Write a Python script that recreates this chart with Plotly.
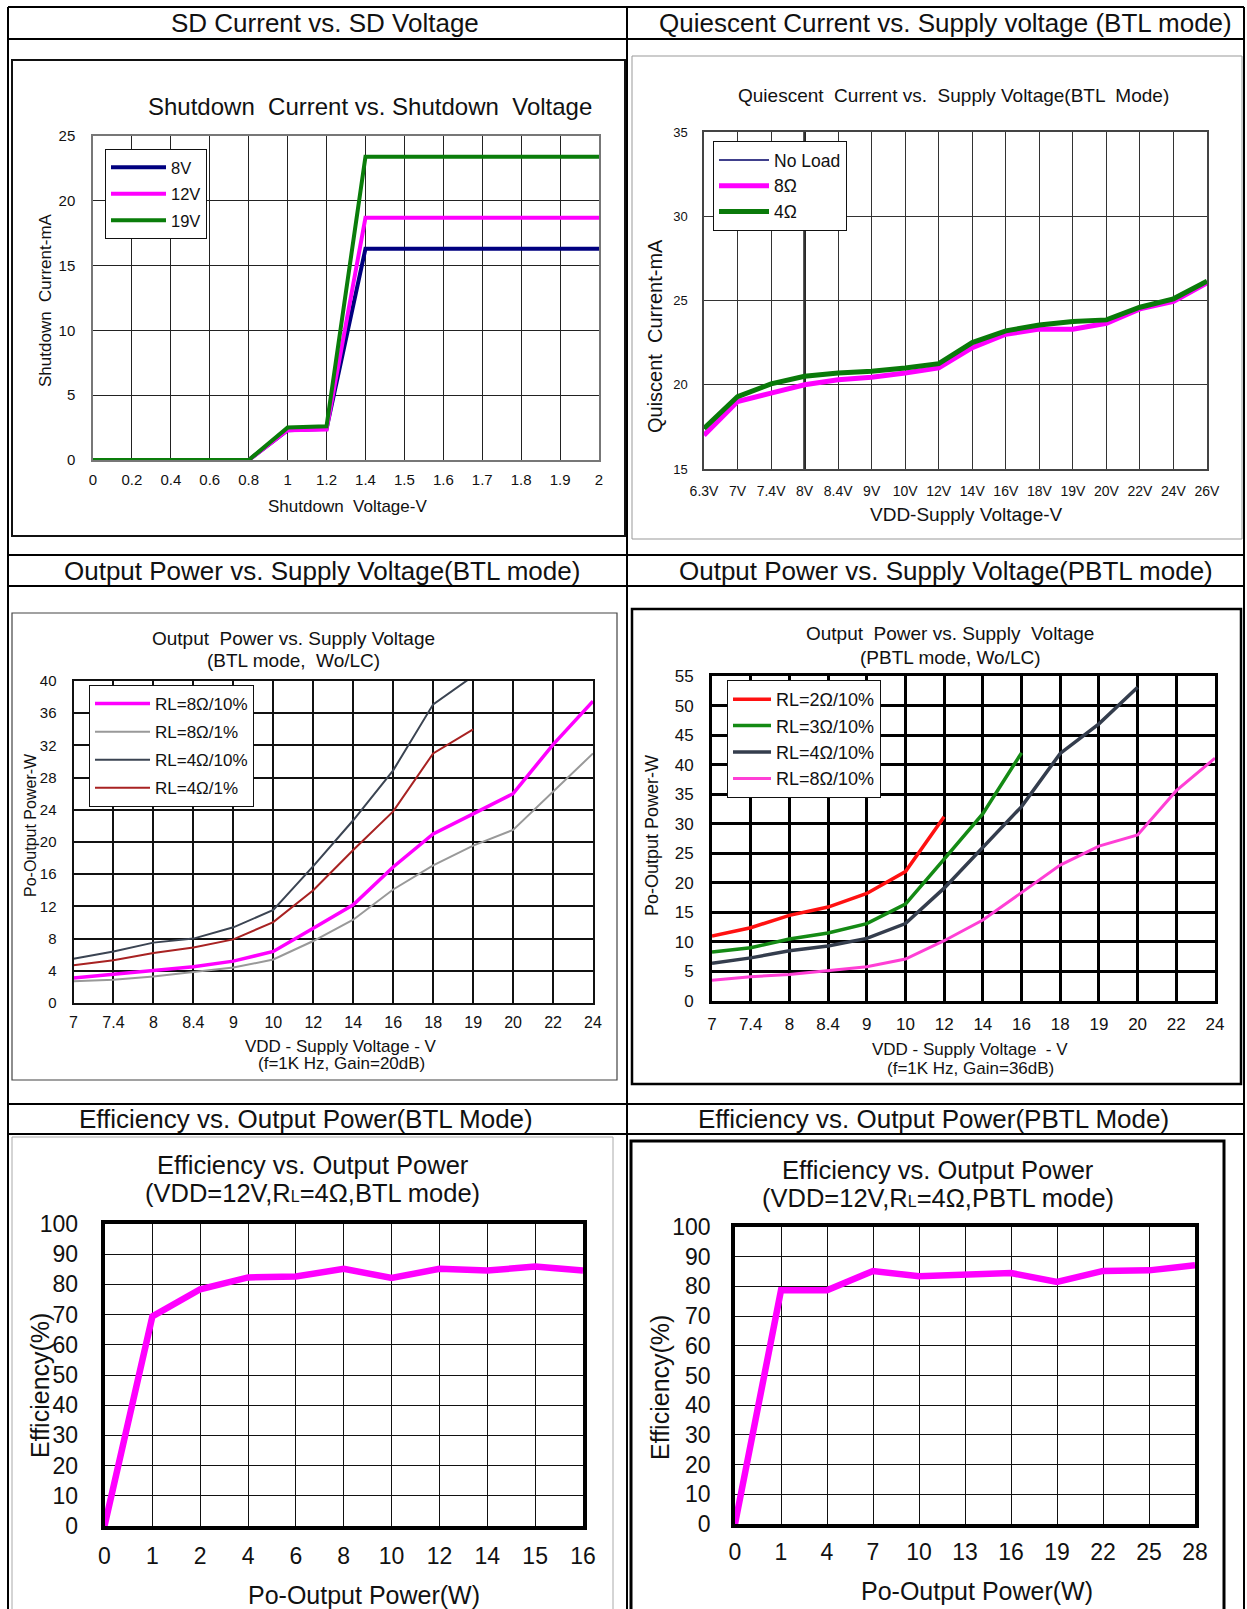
import plotly.graph_objects as go

W, H = 1247, 1609
F = "Liberation Sans, Arial, sans-serif"
FN = "Liberation Sans Narrow, Arial Narrow, Liberation Sans, Arial, sans-serif"

# ---------------- data ----------------
# Panel 1: SD current vs SD voltage
sd_voltage = ["0", "0.2", "0.4", "0.6", "0.8", "1", "1.2", "1.4", "1.5", "1.6", "1.7", "1.8", "1.9", "2"]
sd_8v = [0, 0, 0, 0, 0, 2.3, 2.4, 16.3, 16.3, 16.3, 16.3, 16.3, 16.3, 16.3]
sd_12v = [0, 0, 0, 0, 0, 2.3, 2.35, 18.7, 18.7, 18.7, 18.7, 18.7, 18.7, 18.7]
sd_19v = [0, 0, 0, 0, 0, 2.5, 2.6, 23.4, 23.4, 23.4, 23.4, 23.4, 23.4, 23.4]

# Panel 2: quiescent current vs supply voltage (BTL)
q_vdd = ["6.3V", "7V", "7.4V", "8V", "8.4V", "9V", "10V", "12V", "14V", "16V", "18V", "19V", "20V", "22V", "24V", "26V"]
q_noload = [17.4, 19.3, 20.0, 20.5, 20.7, 20.8, 21.0, 21.2, 22.5, 23.2, 23.5, 23.7, 23.8, 24.6, 25.1, 26.1]
q_8ohm = [17.0, 19.0, 19.5, 20.0, 20.3, 20.45, 20.7, 21.0, 22.2, 23.0, 23.3, 23.3, 23.65, 24.5, 24.95, 26.05]
q_4ohm = [17.4, 19.3, 20.05, 20.5, 20.7, 20.8, 21.0, 21.25, 22.5, 23.2, 23.55, 23.75, 23.85, 24.6, 25.1, 26.15]

# Panel 3: output power vs supply voltage (BTL)
btl_vdd = ["7", "7.4", "8", "8.4", "9", "10", "12", "14", "16", "18", "19", "20", "22", "24"]
btl_8_10 = [3.1, 3.55, 4.05, 4.5, 5.2, 6.4, 9.3, 12.2, 16.9, 21.0, 23.5, 26.0, 32.1, 37.5]
btl_8_1 = [2.7, 2.9, 3.3, 3.85, 4.4, 5.4, 7.7, 10.35, 14.1, 17.1, 19.55, 21.5, 26.3, 31.0]
btl_4_10 = [5.5, 6.4, 7.5, 8.0, 9.4, 11.55, 17.0, 22.7, 28.9, 37.1, 40.6]
btl_4_1 = [4.7, 5.3, 6.2, 6.9, 7.9, 10.05, 14.0, 19.0, 23.8, 31.0, 34.0]

# Panel 4: output power vs supply voltage (PBTL)
pbtl_vdd = ["7", "7.4", "8", "8.4", "9", "10", "12", "14", "16", "18", "19", "20", "22", "24"]
pbtl_2 = [11.0, 12.4, 14.5, 15.9, 18.2, 21.9, 31.2]
pbtl_3 = [8.3, 9.0, 10.5, 11.5, 13.1, 16.4, 24.0, 31.7, 42.0]
pbtl_4 = [6.4, 7.3, 8.5, 9.3, 10.6, 13.1, 19.1, 26.1, 32.9, 41.9, 46.9, 53.1]
pbtl_8 = [3.5, 4.1, 4.5, 5.1, 5.8, 7.1, 10.2, 13.7, 18.4, 23.0, 26.2, 28.1, 35.6, 41.1]

# Panel 5: efficiency (BTL)
eff_btl_po = ["0", "1", "2", "4", "6", "8", "10", "12", "14", "15", "16"]
eff_btl = [0, 69.4, 78.4, 82.3, 82.6, 85.2, 82.1, 85.2, 84.6, 85.9, 84.6]

# Panel 6: efficiency (PBTL)
eff_pbtl_po = ["0", "1", "4", "7", "10", "13", "16", "19", "22", "25", "28"]
eff_pbtl = [0, 78.7, 78.7, 85.2, 83.4, 84.1, 84.5, 81.5, 85.2, 85.4, 87.1]


def px(x):
    return x / W


def py(y):
    return 1 - y / H


fig = go.Figure()
layout = dict(width=W, height=H, margin=dict(l=0, r=0, t=0, b=0, pad=0, autoexpand=False),
              paper_bgcolor="white", plot_bgcolor="white", showlegend=True,
              font=dict(family=F, color="#111"))


def add_axes(n, cats, x0, x1, y0, y1, yr, dt, grid_c, grid_w, line_c, line_w,
             tfx, tfy, sx, sy, fam=F):
    sfx = "" if n == 1 else str(n)
    layout["xaxis" + sfx] = dict(
        domain=[px(x0), px(x1)], anchor="y" + sfx, type="category",
        categoryorder="array", categoryarray=cats,
        range=[0, len(cats) - 1], showgrid=True, gridcolor=grid_c, gridwidth=grid_w,
        showline=True, linecolor=line_c, linewidth=line_w, mirror=True,
        ticks="", tickfont=dict(size=tfx, family=fam, color="#111"),
        ticklabelstandoff=sx, zeroline=False, fixedrange=True, automargin=False)
    layout["yaxis" + sfx] = dict(
        domain=[py(y1), py(y0)], anchor="x" + sfx, range=yr, dtick=dt, tick0=0,
        showgrid=True, gridcolor=grid_c, gridwidth=grid_w,
        showline=True, linecolor=line_c, linewidth=line_w, mirror=True,
        ticks="", tickfont=dict(size=tfy, family=fam, color="#111"),
        ticklabelstandoff=sy, zeroline=False, fixedrange=True, automargin=False)


def line(n, x, y, name, color, width, legend):
    sfx = "" if n == 1 else str(n)
    fig.add_trace(go.Scatter(x=x, y=y, mode="lines", name=name,
                             line=dict(color=color, width=width),
                             xaxis="x" + sfx, yaxis="y" + sfx, legend=legend or "legend",
                             legendgroup=name + str(n),
                             showlegend=legend is not None))


# ---- Panel 1
add_axes(1, sd_voltage, 93, 599, 136, 460, [0, 25], 5, "#222", 1, "#777", 1.5, 15, 15, 5, 13)
line(1, sd_voltage, sd_8v, "8V", "#00007F", 4, "legend")
line(1, sd_voltage, sd_12v, "12V", "#FF00FF", 4, "legend")
line(1, sd_voltage, sd_19v, "19V", "#0A7D0A", 4, "legend")

# ---- Panel 2
add_axes(2, q_vdd, 704, 1207, 132, 469, [15, 35], 5, "#333", 1, "#444", 1.5, 14, 13, 8, 12, FN)
line(2, q_vdd, q_noload, "No Load", "#000066", 1.5, "legend2")
line(2, q_vdd, q_8ohm, "8Ω", "#FF00FF", 5, "legend2")
line(2, q_vdd, q_4ohm, "4Ω", "#0A7A0A", 5, "legend2")

# ---- Panel 3
add_axes(3, btl_vdd, 73.5, 593, 681, 1003, [0, 40], 4, "#111", 1.5, "#111", 2, 16, 15, 4, 12)
line(3, btl_vdd, btl_8_10, "RL=8Ω/10%", "#FF00FF", 3.5, "legend3")
line(3, btl_vdd, btl_8_1, "RL=8Ω/1%", "#999999", 2, "legend3")
line(3, btl_vdd[:len(btl_4_10)], btl_4_10, "RL=4Ω/10%", "#3B4452", 2, "legend3")
line(3, btl_vdd[:len(btl_4_1)], btl_4_1, "RL=4Ω/1%", "#A82222", 2, "legend3")

# ---- Panel 4
add_axes(4, pbtl_vdd, 712, 1215, 676, 1001, [0, 55], 5, "#000", 3, "#000", 3, 17, 17, 6, 12, FN)
line(4, pbtl_vdd[:len(pbtl_2)], pbtl_2, "RL=2Ω/10%", "#FF1111", 3.5, "legend4")
line(4, pbtl_vdd[:len(pbtl_3)], pbtl_3, "RL=3Ω/10%", "#148A14", 3.5, "legend4")
line(4, pbtl_vdd[:len(pbtl_4)], pbtl_4, "RL=4Ω/10%", "#343D4D", 3.5, "legend4")
line(4, pbtl_vdd, pbtl_8, "RL=8Ω/10%", "#FF3FD5", 3, "legend4")

# ---- Panel 5
add_axes(5, eff_btl_po, 104.5, 583, 1224, 1526, [0, 100], 10, "#111", 1, "#000", 3.5, 23, 23, 7, 18)
line(5, eff_btl_po, eff_btl, "Efficiency", "#FF00FF", 6.5, None)

# ---- Panel 6
add_axes(6, eff_pbtl_po, 735, 1195, 1227, 1524, [0, 100], 10, "#111", 1, "#000", 3.5, 23, 23, 5, 16)
line(6, eff_pbtl_po, eff_pbtl, "Efficiency", "#FF00FF", 6.5, None)


# ---- legends
def legend(x, y, size, iw, gap, fam=F):
    return dict(x=px(x), y=py(y), xanchor="left", yanchor="top", bgcolor="white",
                bordercolor="#111", borderwidth=1, font=dict(size=size, family=fam, color="#111"),
                itemwidth=iw, tracegroupgap=gap,
                itemclick=False, itemdoubleclick=False)


layout["legend"] = legend(105, 149, 16.5, 55, 2)
layout["legend2"] = legend(713, 141, 17.5, 50, 0)
layout["legend3"] = legend(89, 685, 17, 55, 3)
layout["legend4"] = legend(727, 680, 18, 38, 0)

# ---- table borders and frames
shapes = []


def hline(y, x0, x1, w=2, c="black"):
    shapes.append(dict(type="line", xref="paper", yref="paper", x0=px(x0), x1=px(x1),
                       y0=py(y), y1=py(y), line=dict(color=c, width=w)))


def vline(x, y0, y1, w=2, c="black"):
    shapes.append(dict(type="line", xref="paper", yref="paper", x0=px(x), x1=px(x),
                       y0=py(y0), y1=py(y1), line=dict(color=c, width=w)))


def rect(x0, y0, x1, y1, w, c):
    shapes.append(dict(type="rect", xref="paper", yref="paper", x0=px(x0), x1=px(x1),
                       y0=py(y1), y1=py(y0), line=dict(color=c, width=w),
                       fillcolor="rgba(0,0,0,0)", layer="below"))


for yy in [7, 39, 555, 586, 1104, 1134]:
    hline(yy, 8, 1244)
for xx in [8, 627, 1244]:
    vline(xx, 7, H + 5)

rect(12, 60, 625, 536, 2, "#111")
rect(632, 56, 1242, 539, 1, "#999")
rect(12, 613, 617, 1080, 1.2, "#444")
rect(632, 609, 1241, 1084, 2.5, "#000")
rect(12, 1137, 613, H + 10, 1, "#aaa")
rect(631, 1141, 1224, H + 10, 3, "#000")

# emphasised grid line at the 8V category in panel 2
k8 = q_vdd.index("8V")
shapes.append(dict(type="line", xref="x2", yref="y2 domain", x0=k8, x1=k8, y0=0, y1=1,
                   line=dict(color="#000", width=2.5), layer="below"))

layout["shapes"] = shapes

# ---- text
ann = []


def text(s, x, y, size, angle=0, fam=F, xanchor="center"):
    ann.append(dict(text=s, x=px(x), y=py(y), xref="paper", yref="paper", showarrow=False,
                    xanchor=xanchor, yanchor="middle", textangle=angle,
                    font=dict(size=size, family=fam, color="#111")))


# headers
text("SD Current vs. SD Voltage", 325, 23, 26)
text("Quiescent Current vs. Supply voltage (BTL mode)", 945, 23, 26)
text("Output Power vs. Supply Voltage(BTL mode)", 322, 571, 26)
text("Output Power vs. Supply Voltage(PBTL mode)", 946, 571, 26)
text("Efficiency vs. Output Power(BTL Mode)", 306, 1119, 26)
text("Efficiency vs. Output Power(PBTL Mode)", 933, 1119, 26)

# panel 1
text("Shutdown  Current vs. Shutdown  Voltage", 370, 106, 24)
text("Shutdown  Current-mA", 45, 300, 17, -90)
text("Shutdown  Voltage-V", 347, 506, 17)
# panel 2
text("Quiescent  Current vs.  Supply Voltage(BTL  Mode)", 953, 96, 19)
text("Quiscent  Current-mA", 655, 336, 20, -90)
text("VDD-Supply Voltage-V", 966, 514, 19)
# panel 3
text("Output  Power vs. Supply Voltage", 293, 638, 19)
text("(BTL mode,  Wo/LC)", 293, 660, 19)
text("Po-Output Power-W", 30, 825, 16, -90)
text("VDD - Supply Voltage - V", 341, 1046, 17)
text("(f=1K Hz, Gain=20dB)", 341, 1063, 17)
# panel 4
text("Output  Power vs. Supply  Voltage", 950, 633, 19)
text("(PBTL mode, Wo/LC)", 950, 657, 19)
text("Po-Output Power-W", 652, 836, 18, -90)
text("VDD - Supply Voltage  - V", 970, 1049, 17)
text("(f=1K Hz, Gain=36dB)", 970, 1068, 17)
# panel 5
text("Efficiency vs. Output Power", 313, 1165, 25.5)
text("(VDD=12V,R<span style='font-size:16px'>L</span>=4Ω,BTL mode)", 312, 1193, 25.5)
text("Efficiency(%)", 40, 1386, 25, -90)
text("Po-Output Power(W)", 364, 1595, 25)
# panel 6
text("Efficiency vs. Output Power", 938, 1170, 25.5)
text("(VDD=12V,R<span style='font-size:16px'>L</span>=4Ω,PBTL mode)", 938, 1198, 25.5)
text("Efficiency(%)", 660, 1388, 25, -90)
text("Po-Output Power(W)", 977, 1591, 25)

layout["annotations"] = ann
fig.update_layout(**layout)

fig.write_html("out.html", config={"responsive": False, "displayModeBar": False},
               post_script="document.body.style.margin='0px';")
